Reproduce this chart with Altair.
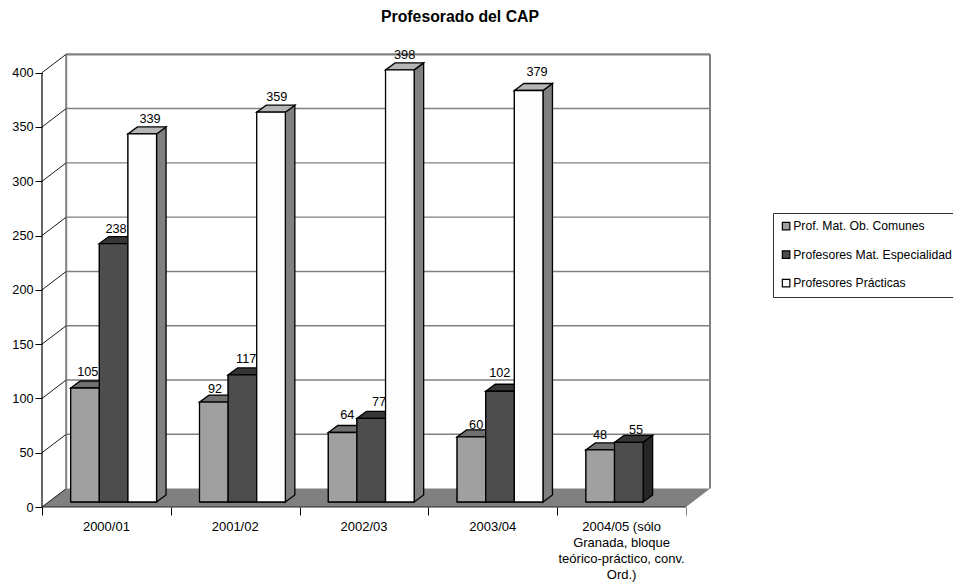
import altair as alt
import pandas as pd

title = "Profesorado del CAP"
categories = ["2000/01", "2001/02", "2002/03", "2003/04",
              "2004/05 (sólo\nGranada, bloque\nteórico-práctico, conv.\nOrd.)"]
series = ["Prof. Mat. Ob. Comunes", "Profesores Mat. Especialidad", "Profesores Prácticas"]
comunes = [105, 92, 64, 60, 48]
especialidad = [238, 117, 77, 102, 55]
practicas = [339, 359, 398, 379, None]
yticks = [0, 50, 100, 150, 200, 250, 300, 350, 400]
values = [comunes, especialidad, practicas]

front = ["#a0a0a0", "#4d4d4d", "#fdfdfd"]
top = ["#707070", "#363636", "#b5b5b5"]
side = ["#505050", "#262626", "#808080"]
FONT = "Liberation Sans"
FS = 12.7

# pixel layout of the pseudo-3D box, converted into data units
PX_X = 128.8           # pixels per category
PX_Y = 1.0858          # pixels per value unit
WALL_DX = 24.2 / PX_X
WALL_DY = 18.4 / PX_Y
XMAX = 668 / PX_X
YMAX = 452 / PX_Y
BAR_W = 28.62 / PX_X
BAR_X0 = (21.5 + 7.2) / PX_X
BAR_Y0 = 5 / PX_Y
DEPTH_X = 9.5 / PX_X
DEPTH_Y = 7 / PX_Y
# small label nudges in pixels (dx, dy), as placed in the original
nudge = [
    [(-2, -5), (-3.6, -2), (0, -6.5), (0, -1), (-5, -4)],
    [(-2.4, -3.6), (-1, -5), (3, -5.4), (-5, -7), (2.4, -1.3)],
    [(3, -3.9), (1, -4), (0, -4), (3.6, -7.5), (0, 0)],
]

x_scale = alt.Scale(domain=[0, XMAX], nice=False, zero=False)
y_scale = alt.Scale(domain=[0, YMAX], nice=False, zero=False)


def X(f="x", **k):
    return alt.X(f"{f}:Q", scale=x_scale, title=None, **k)


def Y(f="y", **k):
    return alt.Y(f"{f}:Q", scale=y_scale, title=None, stack=None, **k)


# floor
floor = pd.DataFrame({
    "x": [0, WALL_DX, 5, 5 + WALL_DX],
    "y": [0, 0, 0, WALL_DY],
    "y2": [0, WALL_DY, WALL_DY, WALL_DY],
})
floor_layer = alt.Chart(floor).mark_area(fill="#808080", orient="vertical").encode(
    x=X(axis=alt.Axis(values=[0, 1, 2, 3, 4, 5], labels=False, domain=False, grid=False,
                      tickSize=8, tickWidth=1,
                      tickColor={"condition": {"test": "datum.value == 5", "value": "#808080"},
                                 "value": "#000000"})),
    y=Y(axis=alt.Axis(values=yticks, domain=False, grid=False, tickSize=7, tickColor="#000000",
                      tickWidth=1, labelFont=FONT, labelFontSize=FS, labelColor="#000000",
                      labelPadding=2)),
    y2="y2:Q",
)

# back wall
grid = pd.DataFrame({"v": [t + WALL_DY for t in yticks], "x": WALL_DX, "x2": XMAX,
                     "w": [2.2 if t == 400 else (2 if t == 0 else 1.4) for t in yticks]})
grid_layer = alt.Chart(grid[grid.v > WALL_DY]).mark_rule(color="#808080").encode(
    x=X(), x2="x2:Q", y=Y("v"), strokeWidth=alt.StrokeWidth("w:Q", scale=None))
walls = pd.DataFrame({"x": [WALL_DX, XMAX], "y": WALL_DY, "y2": 400 + WALL_DY})
wall_layer = alt.Chart(walls).mark_rule(color="#808080", strokeWidth=2).encode(
    x=X(), y=Y(), y2="y2:Q")

# left wall diagonals
diag = pd.DataFrame([{"t": t, "x": px, "y": t + py}
                     for t in yticks for px, py in ((0, 0), (WALL_DX, WALL_DY))])
diag_layer = alt.Chart(diag).mark_line(color="#1a1a1a", strokeWidth=1).encode(
    x=X(), y=Y(), detail="t:N")

# axis lines
axis_y = pd.DataFrame({"x": [0], "y": [0], "y2": [400]})
axis_y_layer = alt.Chart(axis_y).mark_rule(color="#000000", strokeWidth=1.2).encode(
    x=X(), y=Y(), y2="y2:Q")
axis_x = pd.DataFrame({"x": [0], "x2": [5], "y": [0]})
axis_x_layer = alt.Chart(axis_x).mark_rule(color="#222222", strokeWidth=1.2).encode(
    x=X(), x2="x2:Q", y=Y())

# bars
base_rows = []
face_rows = [[], [], []]
label_rows = []
for s, vals in enumerate(values):
    for i, v in enumerate(vals):
        if v is None:
            continue
        x0 = i + BAR_X0 + s * BAR_W
        x1 = x0 + BAR_W
        b = BAR_Y0
        t = BAR_Y0 + v
        base_rows.append({"x": x0, "x2": x1, "y": b, "y2": t, "series": series[s]})
        f = face_rows[s]
        for name, col, pts in (
            ("side", side[s], [(x1, b, t), (x1 + DEPTH_X, b + DEPTH_Y, t + DEPTH_Y)]),
            ("top", top[s], [(x0, t, t), (x0 + DEPTH_X, t, t + DEPTH_Y),
                             (x1, t, t + DEPTH_Y), (x1 + DEPTH_X, t + DEPTH_Y, t + DEPTH_Y)]),
            ("front", front[s], [(x0, b, t), (x1, b, t)]),
        ):
            for px, py, py2 in pts:
                f.append({"x": px, "y": py, "y2": py2, "face": f"{i}-{name}", "col": col})
        ndx, ndy = nudge[s][i]
        label_rows.append({"x": x0 + BAR_W / 2 + DEPTH_X / 2 + ndx / PX_X,
                           "y": t + DEPTH_Y - ndy / PX_Y, "label": str(v)})

base = alt.Chart(pd.DataFrame(base_rows)).mark_rect(stroke="#000000", strokeWidth=1).encode(
    x=X(), x2="x2:Q", y=Y(), y2="y2:Q",
    color=alt.Color("series:N", scale=alt.Scale(domain=series, range=front),
                    sort=series, legend=alt.Legend(title=None)),
)

face_layers = [
    alt.Chart(pd.DataFrame(rows)).mark_area(
        orient="vertical", stroke="#000000", strokeWidth=1.3, strokeJoin="miter"
    ).encode(
        x=X(), y=Y(), y2="y2:Q", detail="face:N",
        fill=alt.Fill("col:N", scale=None),
    )
    for rows in face_rows
]

labels = alt.Chart(pd.DataFrame(label_rows)).mark_text(
    font=FONT, fontSize=FS, color="#000000", baseline="alphabetic", align="center"
).encode(x=X(), y=Y(), text="label:N")

cat_df = pd.DataFrame({"x": [i + 0.5 for i in range(5)], "y": 0, "label": categories})
cat_layer = alt.Chart(cat_df).mark_text(
    font=FONT, fontSize=13, color="#000000", baseline="middle", align="center",
    lineBreak="\n", lineHeight=16.3, dy=19.5,
).encode(x=X(), y=Y(), text="label:N")

chart = alt.layer(
    floor_layer, grid_layer, wall_layer, diag_layer, base, *face_layers,
    axis_y_layer, axis_x_layer, labels, cat_layer,
).resolve_scale(fill="independent").properties(
    width=668,
    height=452,
    autosize=alt.AutoSizeParams(type="none"),
    padding={"left": 34, "top": 47, "right": 243, "bottom": 75},
    title=alt.TitleParams(title, font=FONT, fontSize=15.8, fontWeight="bold", color="#000000",
                          anchor="middle", frame="group", dx=84, offset=23),
).configure_view(stroke=None).configure_legend(
    orient="none", legendX=731, legendY=158,
    strokeColor="#333333", fillColor="#ffffff", padding=7, rowPadding=14.5,
    symbolType="square", symbolSize=56, symbolStrokeColor="#000000", symbolStrokeWidth=1.2,
    labelFont=FONT, labelFontSize=12.2, labelColor="#000000", labelLimit=400, labelOffset=1,
)

chart.save("out.html", embed_options={"renderer": "svg", "actions": False})
